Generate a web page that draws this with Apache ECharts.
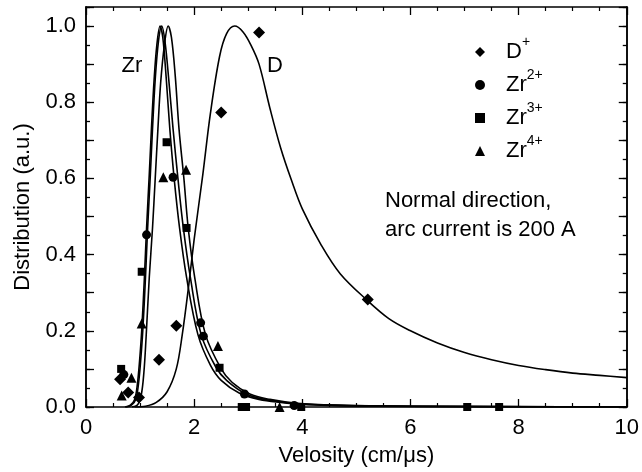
<!DOCTYPE html>
<html><head><meta charset="utf-8">
<script src="https://cdn.jsdelivr.net/npm/echarts@6/dist/echarts.min.js"></script>
<style>html,body{margin:0;padding:0;background:#fff}#c{width:642px;height:472px}</style>
</head><body><div id="c"></div>
<script>
// ---- data ----
const xTickValues = [0, 2, 4, 6, 8, 10];
const xTickLabels = ['0', '2', '4', '6', '8', '10'];
const yTickValues = [0, 0.2, 0.4, 0.6, 0.8, 1.0];
const yTickLabels = ['0.0', '0.2', '0.4', '0.6', '0.8', '1.0'];

const dPoints   = [[0.63,0.073],[0.78,0.038],[0.98,0.025],[1.35,0.124],[1.67,0.213],[2.50,0.773],[3.20,0.983],[5.21,0.282]];
const zr2Points = [[0.70,0.085],[1.12,0.452],[1.61,0.603],[2.12,0.221],[2.17,0.186],[2.93,0.034],[3.85,0.004]];
const zr3Points = [[0.65,0.100],[1.03,0.355],[1.49,0.695],[1.86,0.470],[2.47,0.103],[2.88,0.000],[2.96,0.000],[3.98,0.000],[7.05,0.000],[7.64,0.000]];
const zr4Points = [[0.66,0.030],[0.84,0.077],[1.03,0.219],[1.43,0.603],[1.85,0.623],[2.44,0.160],[3.58,0.000]];

const dFit = [[0.9,0],[1.1,0.002],[1.3,0.012],[1.5,0.04],[1.67,0.10],[1.78,0.19],[1.9,0.32],[2.0,0.44],[2.16,0.61],[2.3,0.77],[2.47,0.92],[2.6,0.98],[2.75,1.0],[2.9,0.985],[3.05,0.95],[3.2,0.9],[3.4,0.785],[3.6,0.68],[3.8,0.595],[4.0,0.52],[4.35,0.425],[4.7,0.35],[5.2,0.28],[5.6,0.232],[6.0,0.2],[6.5,0.168],[7.0,0.143],[7.5,0.124],[8.0,0.109],[8.5,0.098],[9.0,0.089],[9.5,0.083],[10,0.077]];
const zrFitA = [[0.72,0],[0.82,0.005],[0.90,0.02],[0.95,0.06],[0.99,0.12],[1.03,0.2],[1.08,0.34],[1.12,0.47],[1.17,0.61],[1.21,0.73],[1.26,0.86],[1.31,0.95],[1.37,1.0],[1.42,0.97],[1.48,0.87],[1.55,0.73],[1.63,0.6],[1.73,0.47],[1.86,0.34],[2.07,0.19],[2.3,0.11],[2.5,0.07],[2.84,0.036],[3.2,0.02],[3.6,0.012],[4.0,0.007],[5.0,0.003],[7,0.001],[10,0]];
const zrFitB = [[0.74,0],[0.84,0.005],[0.92,0.02],[0.97,0.06],[1.01,0.12],[1.05,0.2],[1.10,0.34],[1.14,0.47],[1.19,0.61],[1.23,0.73],[1.28,0.86],[1.34,0.96],[1.40,1.0],[1.46,0.96],[1.53,0.86],[1.61,0.73],[1.70,0.6],[1.80,0.47],[1.93,0.34],[2.13,0.19],[2.4,0.105],[2.6,0.07],[2.96,0.034],[3.3,0.02],[3.8,0.01],[4.5,0.005],[6,0.002],[10,0]];
const zrFitC = [[0.85,0],[0.95,0.005],[1.02,0.03],[1.07,0.09],[1.11,0.18],[1.17,0.34],[1.23,0.47],[1.28,0.6],[1.33,0.73],[1.38,0.85],[1.45,0.95],[1.52,1.0],[1.58,0.97],[1.65,0.87],[1.72,0.73],[1.81,0.6],[1.89,0.47],[2.01,0.34],[2.21,0.19],[2.5,0.1],[2.7,0.065],[3.03,0.034],[3.4,0.02],[3.9,0.01],[4.6,0.005],[6,0.002],[10,0]];

// ---- chart ----
const FONT = "'Liberation Sans', Arial, Helvetica, sans-serif";
const BLACK = '#000';
function lookup(vals, labels, v) {
  for (let i = 0; i < vals.length; i++) if (Math.abs(vals[i] - v) < 1e-6) return labels[i];
  return '';
}
function xAxisDef(pos, showLabel) {
  return {
    type: 'value', min: 0, max: 10, interval: 2, position: pos,
    axisLine: { show: true, onZero: false, lineStyle: { color: BLACK, width: 1.5 } },
    axisTick: { show: true, inside: true, length: 8, lineStyle: { color: BLACK, width: 1.3 } },
    minorTick: { show: true, splitNumber: 4, length: 4, lineStyle: { color: BLACK, width: 1.2 } },
    splitLine: { show: false },
    axisLabel: { show: showLabel, fontSize: 22, fontFamily: FONT, color: BLACK, margin: 10,
                 formatter: v => lookup(xTickValues, xTickLabels, v) },
    name: showLabel ? 'Velosity (cm/\u03bcs)' : '',
    nameLocation: 'middle', nameGap: 38,
    nameTextStyle: { fontSize: 22, fontFamily: FONT, color: BLACK }
  };
}
function yAxisDef(pos, interval, tickLen, showLabel, withName) {
  return {
    type: 'value', min: 0, max: 1.05, interval: interval, position: pos,
    axisLine: { show: true, onZero: false, lineStyle: { color: BLACK, width: 1.5 } },
    axisTick: { show: true, inside: true, length: tickLen, lineStyle: { color: BLACK, width: 1.3 } },
    splitLine: { show: false },
    axisLabel: { show: showLabel, fontSize: 22, fontFamily: FONT, color: BLACK, margin: 10,
                 formatter: v => lookup(yTickValues, yTickLabels, v) },
    name: withName ? 'Distribution (a.u.)' : '',
    nameLocation: 'middle', nameGap: 52,
    nameTextStyle: { fontSize: 22, fontFamily: FONT, color: BLACK }
  };
}
const lineStyleFit = { color: BLACK, width: 1.6 };
function fitSeries(name, data) {
  return { name: name, type: 'line', data: data, xAxisIndex: 0, yAxisIndex: 0,
           showSymbol: false, symbol: 'none', smooth: 0.35, lineStyle: lineStyleFit,
           itemStyle: { color: BLACK }, silent: true, z: 2 };
}
function pointSeries(name, data, symbol, size) {
  return { name: name, type: 'scatter', data: data, xAxisIndex: 0, yAxisIndex: 0,
           symbol: symbol, symbolSize: size, itemStyle: { color: BLACK, opacity: 1 }, z: 3 };
}
const legendRich = {
  b: { fontSize: 22, fontFamily: FONT, color: BLACK, lineHeight: 34, padding: [0, 0, 0, 16] },
  s: { fontSize: 14, fontFamily: FONT, color: BLACK, lineHeight: 14, verticalAlign: 'top' }
};
const legendText = { 'D+': '{b|D}{s|+}', 'Zr2+': '{b|Zr}{s|2+}', 'Zr3+': '{b|Zr}{s|3+}', 'Zr4+': '{b|Zr}{s|4+}' };

const chart = echarts.init(document.getElementById('c'), null, { renderer: 'canvas' });
chart.setOption({
  animation: false,
  backgroundColor: '#fff',
  grid: { left: 86, right: 14, top: 7, bottom: 62, containLabel: false },
  xAxis: [xAxisDef('bottom', true), xAxisDef('top', false)],
  yAxis: [
    yAxisDef('left', 0.1, 8, true, true),
    yAxisDef('left', 0.05, 4, false, false),
    yAxisDef('right', 0.1, 8, false, false),
    yAxisDef('right', 0.05, 4, false, false)
  ],
  legend: {
    orient: 'vertical', left: 470, top: 30, itemGap: 5,
    itemWidth: 10, itemHeight: 10, symbolKeepAspect: true,
    data: ['D+', 'Zr2+', 'Zr3+', 'Zr4+'],
    formatter: n => legendText[n],
    itemStyle: { opacity: 1 },
    textStyle: { rich: legendRich, fontSize: 22, fontFamily: FONT, color: BLACK },
    selectedMode: false
  },
  graphic: [
    { type: 'text', x: 132, y: 66, style: { text: 'Zr', fontSize: 22, fontFamily: FONT, fill: BLACK, align: 'center', verticalAlign: 'middle' } },
    { type: 'text', x: 275, y: 66, style: { text: 'D', fontSize: 22, fontFamily: FONT, fill: BLACK, align: 'center', verticalAlign: 'middle' } },
    { type: 'text', x: 385, y: 186, style: { text: 'Normal direction,\narc current is 200 A', fontSize: 22, lineHeight: 29, fontFamily: FONT, fill: BLACK, align: 'left', verticalAlign: 'top' } }
  ],
  series: [
    fitSeries('D fit', dFit),
    fitSeries('Zr fit A', zrFitA),
    fitSeries('Zr fit B', zrFitB),
    fitSeries('Zr fit C', zrFitC),
    pointSeries('D+', dPoints, 'diamond', 12),
    pointSeries('Zr2+', zr2Points, 'circle', 9),
    pointSeries('Zr3+', zr3Points, 'rect', 8),
    pointSeries('Zr4+', zr4Points, 'triangle', 10)
  ]
});
</script>
</body></html>
